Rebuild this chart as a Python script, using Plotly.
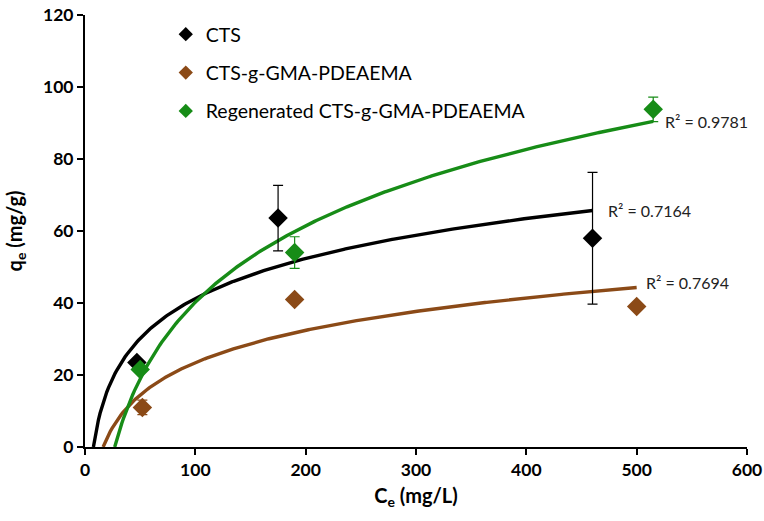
import numpy as np
import plotly.graph_objects as go

# ---- data ----
series_names = ["CTS", "CTS-g-GMA-PDEAEMA", "Regenerated CTS-g-GMA-PDEAEMA"]
cts_x = [47, 175, 460]
cts_y = [23.5, 63.6, 58.0]
cts_err = [0, 9.1, 18.3]
gma_x = [52, 190, 500]
gma_y = [11.0, 41.0, 39.0]
gma_err = [2.0, 0, 0]
reg_x = [50, 190, 515]
reg_y = [21.5, 54.0, 93.8]
reg_err = [0, 4.4, 3.4]
r2_labels = ["R² = 0.7164", "R² = 0.7694", "R² = 0.9781"]
x_ticks = [0, 100, 200, 300, 400, 500, 600]
y_ticks = [0, 20, 40, 60, 80, 100, 120]

colors = ["#000000", "#8B4A17", "#178C17"]

fig = go.Figure()

datasets = [(cts_x, cts_y, cts_err), (gma_x, gma_y, gma_err), (reg_x, reg_y, reg_err)]
label_pos = [(472, 65.8), (507, 45.6), (524, 90.3)]

# logarithmic trendlines (least squares on ln x, like the spreadsheet trendline)
for (xs, ys, es), col in zip(datasets, colors):
    a, b = np.polyfit(np.log(xs), ys, 1)
    x0 = np.exp(-b / a)
    xx = np.linspace(x0, max(xs), 300)
    yy = a * np.log(xx) + b
    fig.add_trace(go.Scatter(x=xx, y=yy, mode="lines", line=dict(color=col, width=3.4),
                             showlegend=False, hoverinfo="skip", cliponaxis=False))

for i, ((xs, ys, es), col, name) in enumerate(zip(datasets, colors, series_names)):
    fig.add_trace(go.Scatter(
        x=xs, y=ys, mode="markers", name=name, showlegend=False,
        marker=dict(symbol="diamond", size=15, color=col),
        error_y=dict(type="data", array=es, visible=True, color=col, thickness=1.2, width=5),
    ))

# legend entries (smaller diamonds, as in the reference legend)
for i, (col, name) in enumerate(zip(colors, series_names)):
    fig.add_trace(go.Scatter(
        x=[None], y=[None], mode="markers", name=name, legendgroup=f"g{i}",
        marker=dict(symbol="diamond", size=11, color=col),
    ))

for (lx, ly), txt in zip(label_pos, r2_labels):
    fig.add_annotation(x=lx, y=ly, text=txt, showarrow=False, xanchor="left", yanchor="middle",
                       font=dict(family="Lato, Open Sans, sans-serif", size=16, color="#222"))

tick_font = dict(family="Lato, sans-serif", size=17.5, color="black", weight="bold")
title_font = dict(family="Lato, sans-serif", size=20, color="black", weight="bold")

axis_common = dict(showline=True, linecolor="black", linewidth=2, ticks="outside",
                   tickcolor="black", tickwidth=2, ticklen=6, showgrid=False, zeroline=False,
                   automargin=False, tickfont=tick_font)

fig.update_xaxes(range=[0, 600], tickvals=x_ticks, **axis_common,
                 title=dict(text="C<sub>e</sub> (mg/L)", standoff=10, font=title_font))
fig.update_yaxes(range=[0, 120], tickvals=y_ticks, **axis_common,
                 title=dict(text="q<sub>e</sub> (mg/g)", standoff=15, font=title_font))

fig.update_layout(
    width=764, height=521,
    margin=dict(l=85, r=17, t=15, b=74),
    plot_bgcolor="white", paper_bgcolor="white",
    legend=dict(x=0.122, y=1.0, xanchor="left", yanchor="top", bgcolor="rgba(0,0,0,0)",
                font=dict(family="Lato, Open Sans, sans-serif", size=19.5, color="black"),
                tracegroupgap=10, itemsizing="trace"),
)

# remove the default page margin so the figure fills the 764x521 window exactly
fig.write_html("out.html", config={"displayModeBar": False},
               post_script="document.body.style.margin='0';document.body.style.overflow='hidden';")
